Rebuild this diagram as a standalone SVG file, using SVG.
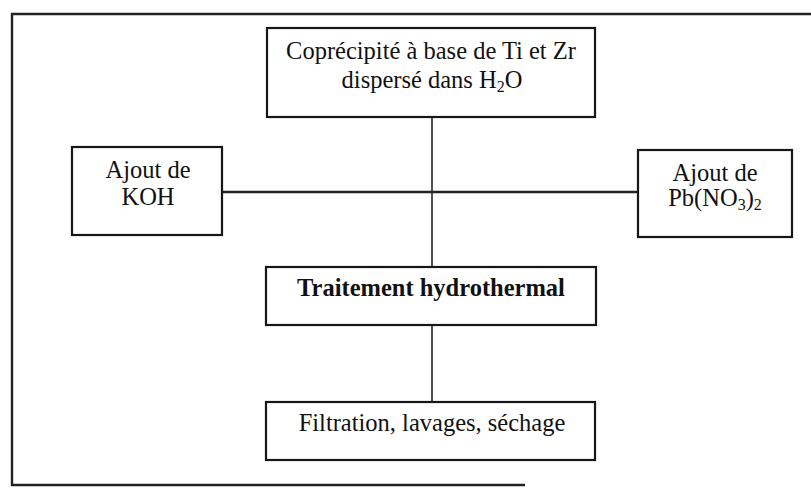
<svg xmlns="http://www.w3.org/2000/svg" width="811" height="488" viewBox="0 0 811 488">
<style>
.box{fill:#fff;stroke:#161616;stroke-width:2.2}
.frame{fill:none;stroke:#222;stroke-width:2.4}
.conn{fill:none;stroke:#222}
text{font-family:"Liberation Serif","Times New Roman",serif;font-size:24.5px;fill:#111;text-anchor:middle}
.b{font-weight:bold}
.sub{font-size:16px}
</style>
<rect width="811" height="488" fill="#fff"/>
<g id="frame">
<path class="frame" d="M811,14 L12,14 L12,485 L525,485"/>
</g>
<g id="connectors">
<line class="conn" x1="432" y1="117" x2="432" y2="267" stroke-width="1.6"/>
<line class="conn" x1="222" y1="192" x2="638" y2="192" stroke-width="2.6"/>
<line class="conn" x1="432" y1="325" x2="432" y2="402" stroke-width="1.6"/>
</g>
<g id="node-coprecipite">
<rect class="box" x="267" y="28" width="328" height="89"/>
<text x="431" y="59">Coprécipité à base de Ti et Zr</text>
<text x="432" y="88">dispersé dans H<tspan class="sub" dy="4">2</tspan><tspan dy="-4">O</tspan></text>
</g>
<g id="node-koh">
<rect class="box" x="72" y="147" width="150" height="88"/>
<text x="148" y="178">Ajout de</text>
<text x="148" y="205">KOH</text>
</g>
<g id="node-pbno3">
<rect class="box" x="638" y="150" width="154" height="87"/>
<text x="715" y="181">Ajout de</text>
<text x="715" y="206">Pb(NO<tspan class="sub" dy="4">3</tspan><tspan dy="-4">)</tspan><tspan class="sub" dy="4">2</tspan></text>
</g>
<g id="node-traitement">
<rect class="box" x="266" y="267" width="330" height="58"/>
<text class="b" x="431" y="296">Traitement hydrothermal</text>
</g>
<g id="node-filtration">
<rect class="box" x="266" y="402" width="329" height="58"/>
<text x="432" y="431">Filtration, lavages, séchage</text>
</g>
</svg>
